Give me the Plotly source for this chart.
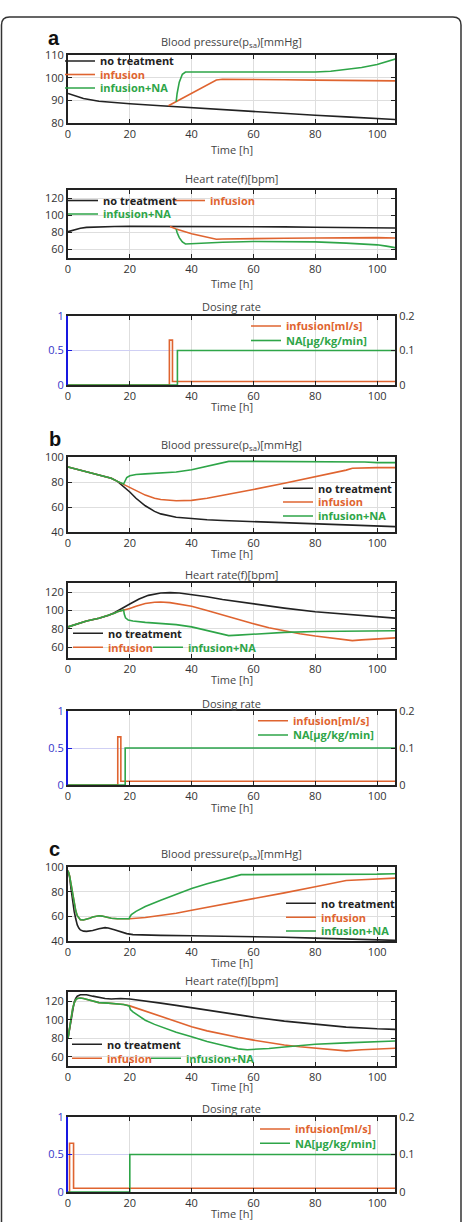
import plotly.graph_objects as go

# ---------------- data ----------------
# Panel a : blood pressure
a_bp_none_t = [0, 2, 5, 10, 15, 20, 30, 40, 50, 60, 70, 80, 90, 100, 106]
a_bp_none = [93, 92, 90.8, 89.6, 89, 88.5, 87.6, 86.7, 85.8, 85, 84.2, 83.4, 82.7, 82, 81.5]
a_bp_inf_t = [32.5, 35, 40, 48, 50, 60, 70, 80, 90, 100, 106]
a_bp_inf = [87.6, 89.4, 93, 99, 99.3, 99.3, 99.1, 98.9, 98.8, 98.6, 98.6]
a_bp_na_t = [35, 35.3, 36, 37, 38, 50, 60, 70, 80, 85, 90, 95, 100, 103, 106]
a_bp_na = [89.4, 93, 98, 101.5, 102.5, 102.5, 102.3, 102.3, 102.5, 102.8, 103.5, 104.5, 105.8, 107, 108.3]
# Panel a : heart rate
a_hr_none_t = [0, 1, 2, 4, 6, 10, 15, 20, 30, 40, 50, 60, 70, 80, 90, 100, 106]
a_hr_none = [81, 82, 83.5, 85, 86, 86.8, 87, 87.2, 87.2, 87, 87, 87, 86.6, 86.2, 85.8, 85.5, 85.3]
a_hr_inf_t = [33, 35, 40, 45, 48, 50, 60, 70, 80, 90, 100, 106]
a_hr_inf = [87, 84, 78.5, 74.5, 72, 72.3, 73, 73.2, 73.5, 74, 74, 73.5]
a_hr_na_t = [35, 35.3, 36, 37, 38, 45, 50, 60, 70, 80, 90, 100, 103, 106]
a_hr_na = [84, 80, 74, 69, 66.5, 68, 68.5, 69.5, 69.5, 69, 67.5, 65.5, 64, 62]
# Panel a : dosing
a_dr_inf_t = [0, 32.8, 32.8, 33.8, 33.8, 106]
a_dr_inf = [0, 0, 0.65, 0.65, 0.05, 0.05]
a_dr_na_t = [0, 35.4, 35.4, 106]
a_dr_na = [0, 0, 0.1, 0.1]

# Panel b : blood pressure
b_bp_none_t = [0, 5, 10, 14, 16, 18, 20, 22, 25, 28, 30, 35, 40, 45, 50, 60, 70, 80, 90, 100, 106]
b_bp_none = [92, 89, 86, 83, 80.5, 76.5, 72, 67, 61, 56.5, 54.5, 51.8, 50.5, 49.8, 49.2, 48.3, 47.5, 46.5, 45.7, 44.8, 44.3]
b_bp_inf_t = [0, 5, 10, 14, 16, 18, 20, 22, 25, 28, 30, 35, 40, 45, 50, 55, 60, 70, 80, 90, 92, 95, 100, 106]
b_bp_inf = [92, 89, 86, 83, 80.5, 78, 75.5, 73, 69.5, 67, 66, 65, 65.3, 67, 69.2, 71.6, 74, 79, 84, 89.5, 91, 91.3, 91.5, 91.5]
b_bp_na_t = [0, 5, 10, 14, 16, 17, 18, 18.3, 19, 20, 22, 25, 30, 35, 40, 45, 50, 52, 60, 80, 90, 96, 100, 106]
b_bp_na = [92, 89, 86, 83, 80.5, 79.5, 78.5, 80, 83.5, 85, 86, 86.5, 87, 88, 89.8, 92.5, 95.5, 96.5, 96.5, 96.5, 96.3, 96, 95.5, 95.5]
# Panel b : heart rate
b_hr_none_t = [0, 3, 6, 10, 13, 15, 17, 20, 23, 26, 30, 33, 36, 40, 45, 50, 55, 60, 70, 80, 90, 100, 106]
b_hr_none = [82, 85.5, 88.5, 91.5, 94.5, 97.5, 101, 107, 112.5, 116.5, 119, 119.5, 119, 117.5, 115, 112, 109.5, 107, 102.5, 98.5, 95.5, 92.5, 91.5]
b_hr_inf_t = [0, 3, 6, 10, 13, 15, 16, 18, 20, 22, 25, 28, 30, 33, 36, 40, 45, 50, 55, 60, 65, 70, 75, 80, 85, 90, 92, 95, 100, 106]
b_hr_inf = [82, 85.5, 88.5, 91.5, 94.5, 97, 98.5, 100, 102, 104.5, 107.5, 109, 109.3, 108.5, 107, 104.5, 100, 95, 90, 85.5, 81, 77.5, 74.5, 72, 70, 67.5, 67, 67.8, 69, 70]
b_hr_na_t = [0, 3, 6, 10, 13, 15, 16, 17, 18, 18.2, 18.6, 19.5, 21, 25, 30, 35, 40, 45, 50, 52, 55, 60, 65, 70, 80, 90, 100, 106]
b_hr_na = [82, 85.5, 88.5, 91.5, 94.5, 97, 98.5, 99.5, 100.5, 96, 92, 89.5, 88.5, 87, 86, 84.5, 82, 78, 74, 72.5, 73, 74, 75, 76, 77, 77.3, 77.5, 77.8]
# Panel b : dosing
b_dr_inf_t = [0, 16.1, 16.1, 17.1, 17.1, 106]
b_dr_inf = [0, 0, 0.65, 0.65, 0.05, 0.05]
b_dr_na_t = [0, 18.5, 18.5, 106]
b_dr_na = [0, 0, 0.1, 0.1]

# Panel c : blood pressure
c_bp_none_t = [0, 0.5, 1, 1.5, 2, 2.5, 3, 3.5, 4, 5, 6, 8, 10, 12, 13, 15, 17, 19, 21, 25, 30, 40, 50, 60, 70, 80, 90, 100, 106]
c_bp_none = [97, 92, 82, 72, 64, 58, 53, 50.5, 49, 48, 47.8, 48.5, 50, 50.8, 50.6, 49.2, 47.5, 46, 45.2, 44.8, 44.6, 44.3, 44, 43.5, 43, 42.3, 41.5, 40.8, 40.5]
c_bp_inf_t = [0, 0.5, 1, 1.5, 2, 2.5, 3, 3.5, 4, 5, 6, 7, 8, 9, 10, 11, 12, 14, 16, 18, 20, 25, 30, 35, 40, 50, 60, 70, 80, 85, 90, 95, 100, 106]
c_bp_inf = [97, 93, 86, 78, 70, 64.5, 60.5, 58.3, 57.3, 57, 57.5, 58.5, 59.5, 60.3, 60.5, 60.2, 59.5, 58.5, 58, 58, 58, 59, 60.5, 62.5, 65, 69.5, 74, 79, 84, 86.5, 89, 89.7, 90.3, 91]
c_bp_na_t = [0, 0.5, 1, 1.5, 2, 2.5, 3, 3.5, 4, 5, 6, 7, 8, 9, 10, 11, 12, 14, 16, 18, 19.8, 20, 20.5, 22, 25, 30, 35, 40, 45, 50, 55, 56, 60, 70, 80, 90, 100, 106]
c_bp_na = [97, 93, 86, 78, 70, 64.5, 60.5, 58.3, 57.3, 57, 57.5, 58.5, 59.5, 60.3, 60.5, 60.2, 59.5, 58.5, 58, 58, 58, 59.5, 61.5, 64, 68, 73, 78, 82.5, 86.5, 90, 93.5, 93.8, 93.8, 93.8, 93.8, 93.8, 94.2, 94.6]
# Panel c : heart rate
c_hr_none_t = [0, 0.5, 1, 1.5, 2, 2.5, 3, 4, 5, 6, 8, 10, 12, 14, 17, 20, 25, 30, 35, 40, 50, 60, 70, 80, 90, 100, 106]
c_hr_none = [80, 90, 102, 112, 119, 123, 125.5, 127, 127.3, 127, 125.5, 124, 123, 122.5, 123, 122.5, 120.5, 118, 115.5, 112.8, 107.5, 102.8, 98.5, 95, 92, 90.2, 89.6]
c_hr_inf_t = [0, 0.5, 1, 1.5, 2, 2.5, 3, 4, 5, 6, 8, 10, 13, 16, 18, 20, 25, 30, 35, 40, 45, 50, 55, 60, 65, 70, 75, 80, 85, 90, 95, 100, 106]
c_hr_inf = [80, 92, 103, 112, 118, 121.5, 123, 123.5, 123, 122, 120, 118.5, 118, 117.5, 116.5, 115, 109.5, 103.7, 98, 92.5, 88, 84.3, 81, 78, 75, 72.7, 70.8, 69.1, 67.5, 66.3, 67.5, 68.5, 69.2]
c_hr_na_t = [0, 0.5, 1, 1.5, 2, 2.5, 3, 4, 5, 6, 8, 10, 13, 16, 18, 19.8, 20.2, 21, 23, 25, 28, 30, 35, 40, 45, 50, 55, 58, 60, 65, 70, 75, 80, 90, 100, 106]
c_hr_na = [80, 92, 103, 112, 118, 121.5, 123, 123.5, 123, 122, 120, 118.5, 118, 117.5, 116.5, 115, 111, 108.5, 103.5, 99.5, 95, 92.5, 86.5, 81.7, 76.5, 72.4, 68.5, 67.6, 67.8, 69, 70.5, 72, 73.5, 75, 76.5, 77]
# Panel c : dosing
c_dr_inf_t = [0, 0.5, 0.5, 1.8, 1.8, 106]
c_dr_inf = [0, 0, 0.65, 0.65, 0.05, 0.05]
c_dr_na_t = [0, 20, 20, 106]
c_dr_na = [0, 0, 0.1, 0.1]

x_ticks = [0, 20, 40, 60, 80, 100]
bp_a_ticks = [80, 90, 100, 110]
bp_ticks = [40, 60, 80, 100]
hr_ticks = [60, 80, 100, 120]
dose_left_ticks = [0, 0.5, 1]
dose_left_text = ["0", "0.5", "1"]
dose_right_ticks = [0, 0.1, 0.2]
dose_right_text = ["0", "0.1", "0.2"]

names = {"none": "no treatment", "inf": "infusion", "na": "infusion+NA"}
dose_names = {"inf": "infusion[ml/s]", "na": "NA[μg/kg/min]"}

# ---------------- styling ----------------
W, H = 467, 1222
X0, X1 = 68, 395
BLACK = "#222222"
ORANGE = "#DF6430"
GREEN = "#2EA548"
BLUE = "#1818E0"
BLUE_TXT = "#3535C8"
GRID = "#DEDEDE"
FONT = "Open Sans"


def py(p):
    return 1 - p / H


def pxx(p):
    return p / W


fig = go.Figure()
layout = dict(
    width=W, height=H, margin=dict(l=0, r=0, t=0, b=0, autoexpand=False),
    paper_bgcolor="white", plot_bgcolor="white", template="none",
    showlegend=True, font=dict(family=FONT, size=11, color="#262626"),
)

panels = [
    # (label, top px, bottom px, kind, yrange, yticks)
    ("aBP", 55, 123, "bp", [80, 110], bp_a_ticks),
    ("aHR", 190, 258, "hr", [50, 130], hr_ticks),
    ("aDR", 316, 385, "dr", [0, 1], dose_left_ticks),
    ("bBP", 457, 532, "bp", [40, 100], bp_ticks),
    ("bHR", 583, 658, "hr", [48, 130], hr_ticks),
    ("bDR", 711, 785, "dr", [0, 1], dose_left_ticks),
    ("cBP", 867, 941, "bp", [40, 100], bp_ticks),
    ("cHR", 992, 1066, "hr", [50, 130], hr_ticks),
    ("cDR", 1117, 1192, "dr", [0, 1], dose_left_ticks),
]

series = {
    "aBP": [("none", a_bp_none_t, a_bp_none), ("inf", a_bp_inf_t, a_bp_inf), ("na", a_bp_na_t, a_bp_na)],
    "aHR": [("none", a_hr_none_t, a_hr_none), ("inf", a_hr_inf_t, a_hr_inf), ("na", a_hr_na_t, a_hr_na)],
    "aDR": [("inf", a_dr_inf_t, a_dr_inf), ("na", a_dr_na_t, a_dr_na)],
    "bBP": [("none", b_bp_none_t, b_bp_none), ("inf", b_bp_inf_t, b_bp_inf), ("na", b_bp_na_t, b_bp_na)],
    "bHR": [("none", b_hr_none_t, b_hr_none), ("inf", b_hr_inf_t, b_hr_inf), ("na", b_hr_na_t, b_hr_na)],
    "bDR": [("inf", b_dr_inf_t, b_dr_inf), ("na", b_dr_na_t, b_dr_na)],
    "cBP": [("none", c_bp_none_t, c_bp_none), ("inf", c_bp_inf_t, c_bp_inf), ("na", c_bp_na_t, c_bp_na)],
    "cHR": [("none", c_hr_none_t, c_hr_none), ("inf", c_hr_inf_t, c_hr_inf), ("na", c_hr_na_t, c_hr_na)],
    "cDR": [("inf", c_dr_inf_t, c_dr_inf), ("na", c_dr_na_t, c_dr_na)],
}

# legend anchor (text start x px, centre y px)
legend_pos = {
    ("aBP", "none"): (97, 61), ("aBP", "inf"): (97, 74.5), ("aBP", "na"): (97, 88),
    ("aHR", "none"): (100, 200.5), ("aHR", "inf"): (207, 200.5), ("aHR", "na"): (100, 214),
    ("aDR", "inf"): (283, 326), ("aDR", "na"): (283, 340.5),
    ("bBP", "none"): (315, 488.3), ("bBP", "inf"): (315, 502), ("bBP", "na"): (315, 516),
    ("bHR", "none"): (105, 633.3), ("bHR", "inf"): (105, 647.3), ("bHR", "na"): (185, 647.3),
    ("bDR", "inf"): (290, 720.7), ("bDR", "na"): (290, 735),
    ("cBP", "none"): (318, 903.3), ("cBP", "inf"): (318, 917.3), ("cBP", "na"): (318, 931),
    ("cHR", "none"): (104, 1044.3), ("cHR", "inf"): (104, 1058.3), ("cHR", "na"): (183, 1058.3),
    ("cDR", "inf"): (292, 1129), ("cDR", "na"): (292, 1143.3),
}
colors = {"none": BLACK, "inf": ORANGE, "na": GREEN}
LEG_OFF = 37

titles = {
    "bp": "Blood pressure(p<sub>sa</sub>)[mmHg]",
    "hr": "Heart rate(f)[bpm]",
    "dr": "Dosing rate",
}
title_y = [42, 179, 307, 445, 574, 703, 854, 980, 1108]
time_y = [149, 283, 406, 553.5, 679.5, 807, 962, 1086.5, 1213]

annotations = []
legend_count = 0
right_axis_id = 10
for i, (key, top, bot, kind, yr, yt) in enumerate(panels):
    n = i + 1
    xname = "xaxis" if n == 1 else f"xaxis{n}"
    yname = "yaxis" if n == 1 else f"yaxis{n}"
    xr = "x" if n == 1 else f"x{n}"
    yrf = "y" if n == 1 else f"y{n}"
    layout[xname] = dict(
        domain=[pxx(X0), pxx(X1)], anchor=yrf, range=[0, 105.8],
        tickvals=x_ticks, ticks="inside", ticklen=4, tickwidth=1.3, tickcolor=BLACK,
        showline=True, linecolor=BLACK, linewidth=2, mirror="ticks",
        showgrid=True, gridcolor=GRID, gridwidth=1, zeroline=False,
        tickfont=dict(family=FONT, size=11, color="#333333"), automargin=False,
    )
    if kind == "dr":
        layout[yname] = dict(
            domain=[py(bot), py(top)], anchor=xr, range=yr,
            tickvals=dose_left_ticks, ticktext=dose_left_text,
            ticks="inside", ticklen=4, tickwidth=1.3, tickcolor=BLUE,
            showline=True, linecolor=BLUE, linewidth=2, mirror=False,
            showgrid=True, gridcolor="#CFCFF4", gridwidth=1, zeroline=False,
            tickfont=dict(family=FONT, size=11, color=BLUE_TXT), automargin=False,
        )
        rname = f"yaxis{right_axis_id}"
        rref = f"y{right_axis_id}"
        layout[rname] = dict(
            overlaying=yrf, anchor=xr, side="right", range=[0, 0.2],
            tickvals=dose_right_ticks, ticktext=dose_right_text,
            ticks="inside", ticklen=4, tickwidth=1.3, tickcolor=BLACK,
            showline=True, linecolor=BLACK, linewidth=2,
            showgrid=False, zeroline=False,
            tickfont=dict(family=FONT, size=11, color="#333333"), automargin=False,
        )
        right_axis_id += 1
    else:
        layout[yname] = dict(
            domain=[py(bot), py(top)], anchor=xr, range=yr,
            tickvals=yt, ticks="inside", ticklen=4, tickwidth=1.3, tickcolor=BLACK,
            showline=True, linecolor=BLACK, linewidth=2, mirror="ticks",
            showgrid=True, gridcolor=GRID, gridwidth=1, zeroline=False,
            tickfont=dict(family=FONT, size=11, color="#333333"), automargin=False,
        )
        rref = None

    for sk, tt, vv in series[key]:
        legend_count += 1
        lid = "legend" if legend_count == 1 else f"legend{legend_count}"
        tx, ty = legend_pos[(key, sk)]
        if kind == "dr":
            nm = dose_names[sk]
            yax = rref if sk == "na" else yrf
        else:
            nm = names[sk]
            yax = yrf
        fig.add_trace(go.Scatter(
            x=tt, y=vv, mode="lines", name=nm, xaxis=xr, yaxis=yax,
            line=dict(color=colors[sk], width=1.6), legend=lid, showlegend=True,
        ))
        layout[lid] = dict(
            x=pxx(tx - LEG_OFF), y=py(ty), xref="paper", yref="paper",
            xanchor="left", yanchor="middle", bgcolor="rgba(0,0,0,0)",
            borderwidth=0, itemwidth=30,
            font=dict(family=FONT, size=11, color=colors[sk], weight="bold"),
        )

    annotations.append(dict(
        text=titles[kind], x=pxx((X0 + X1) / 2), y=py(title_y[i]), xref="paper", yref="paper",
        xanchor="center", yanchor="middle", showarrow=False,
        font=dict(family=FONT, size=11, color="#444444"),
    ))
    annotations.append(dict(
        text="Time [h]", x=pxx((X0 + X1) / 2), y=py(time_y[i]), xref="paper", yref="paper",
        xanchor="center", yanchor="middle", showarrow=False,
        font=dict(family=FONT, size=11, color="#444444"),
    ))

for lab, lx, ly in [("a", 54, 38), ("b", 55, 439), ("c", 54, 849)]:
    annotations.append(dict(
        text=f"<b>{lab}</b>", x=pxx(lx), y=py(ly), xref="paper", yref="paper",
        xanchor="center", yanchor="middle", showarrow=False,
        font=dict(family="Liberation Sans", size=20, color="#111111"),
    ))

layout["annotations"] = annotations

# rounded outer frame
fx0, fx1, fy0, r = 1.5, 461, 17, 8


def P(x, y):
    return f"{pxx(x):.5f},{py(y):.5f}"


frame = (f"M {P(fx0, H)} L {P(fx0, fy0 + r)} Q {P(fx0, fy0)} {P(fx0 + r, fy0)} "
         f"L {P(fx1 - r, fy0)} Q {P(fx1, fy0)} {P(fx1, fy0 + r)} L {P(fx1, H)}")
layout["shapes"] = [dict(type="path", path=frame, xref="paper", yref="paper",
                         line=dict(color="#333333", width=1.5))]

fig.update_layout(**layout)
fig.write_html("out.html")
